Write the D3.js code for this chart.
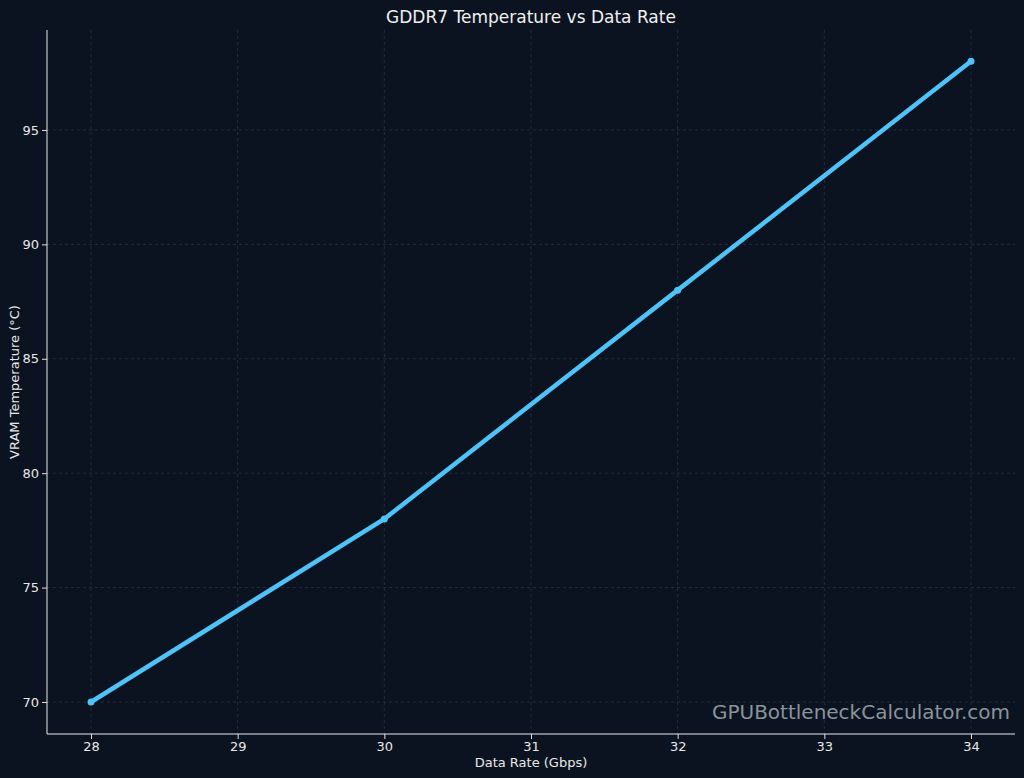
<!DOCTYPE html><html><head><script src="https://cdn.jsdelivr.net/npm/d3@7"></script>
<style>body{margin:0;background:#0b1320}</style></head><body><svg id="c" width="1024" height="778"></svg>
<script>
const rates=[28,30,32,34];
const temps=[70,78,88,98];
const xTicks=[28,29,30,31,32,33,34];
const yTicks=[70,75,80,85,90,95];
const svg=d3.select("#c");
svg.append("rect").attr("width",1024).attr("height",778).attr("fill","#0b1320");
const x=d3.scaleLinear().domain([27.7,34.3]).range([47,1015]);
const y=d3.scaleLinear().domain([68.6,99.37]).range([734,30]);
const font="DejaVu Sans, sans-serif";
const g=svg.append("g");
g.selectAll(".vx").data(xTicks).join("line").attr("x1",d=>x(d)).attr("x2",d=>x(d)).attr("y1",30).attr("y2",734).attr("stroke","#2a3442").attr("stroke-dasharray","3,3").attr("stroke-width",0.8);
g.selectAll(".hy").data(yTicks).join("line").attr("y1",d=>y(d)).attr("y2",d=>y(d)).attr("x1",47).attr("x2",1015).attr("stroke","#2a3442").attr("stroke-dasharray","3,3").attr("stroke-width",0.8);
const xa=svg.append("g").attr("transform","translate(0,734)").call(d3.axisBottom(x).tickValues(xTicks).tickSize(5).tickFormat(d3.format("d")));
const ya=svg.append("g").attr("transform","translate(47,0)").call(d3.axisLeft(y).tickValues(yTicks).tickSize(5).tickFormat(d3.format("d")));
[xa,ya].forEach(a=>{a.selectAll("path").remove();a.selectAll("line").attr("stroke","#e0e0e0");a.selectAll("text").attr("fill","#e8e8e8").style("font-family",font).style("font-size","13px");});
svg.append("line").attr("x1",47).attr("x2",1015).attr("y1",734).attr("y2",734).attr("stroke","#e8e8e8");
svg.append("line").attr("x1",47).attr("x2",47).attr("y1",30).attr("y2",734).attr("stroke","#e8e8e8");
svg.append("path").datum(rates.map((r,i)=>[r,temps[i]])).attr("d",d3.line().x(d=>x(d[0])).y(d=>y(d[1]))).attr("fill","none").attr("stroke","#4fc3f7").attr("stroke-width",4.5).attr("stroke-linecap","round");
svg.selectAll(".pt").data(rates).join("circle").attr("cx",d=>x(d)).attr("cy",(d,i)=>y(temps[i])).attr("r",3.5).attr("fill","#4fc3f7");
svg.append("text").attr("x",531).attr("y",23).attr("text-anchor","middle").attr("fill","#f0f0f0").style("font-family",font).style("font-size","17px").text("GDDR7 Temperature vs Data Rate");
svg.append("text").attr("x",531).attr("y",767).attr("text-anchor","middle").attr("fill","#e8e8e8").style("font-family",font).style("font-size","13px").text("Data Rate (Gbps)");
svg.append("text").attr("transform","translate(19,382) rotate(-90)").attr("text-anchor","middle").attr("fill","#e8e8e8").style("font-family",font).style("font-size","13px").text("VRAM Temperature (°C)");
svg.append("text").attr("x",1010).attr("y",719).attr("text-anchor","end").attr("fill","#8a939c").style("font-family",font).style("font-size","20px").text("GPUBottleneckCalculator.com");
</script></body></html>
